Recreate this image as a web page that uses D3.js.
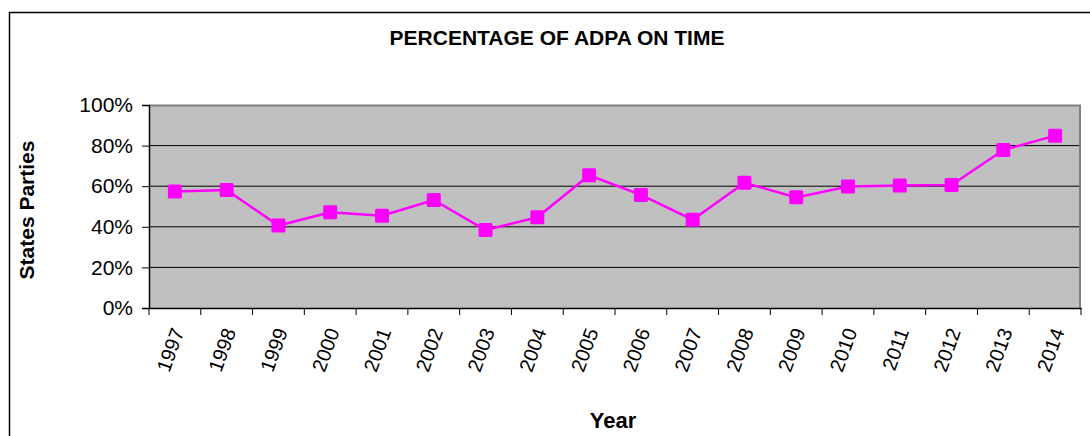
<!DOCTYPE html>
<html>
<head>
<meta charset="utf-8">
<script src="https://cdn.jsdelivr.net/npm/d3@7"></script>
<style>
  body { margin: 0; background: #fff; }
  svg { display: block; font-family: "Liberation Sans", Arial, sans-serif; }
</style>
</head>
<body>
<svg id="chart" width="1090" height="436"></svg>
<script>
const years = ["1997", "1998", "1999", "2000", "2001", "2002", "2003", "2004", "2005",
  "2006", "2007", "2008", "2009", "2010", "2011", "2012", "2013", "2014"];
const onTime = [0.574, 0.581, 0.406, 0.472, 0.455, 0.532, 0.384, 0.447, 0.654,
  0.557, 0.435, 0.617, 0.545, 0.598, 0.603, 0.606, 0.778, 0.849];
const yTicks = [0, 0.2, 0.4, 0.6, 0.8, 1];

const svg = d3.select("#chart");
const margin = { top: 105, right: 9, bottom: 128, left: 149 };
const width = 1090 - margin.left - margin.right;
const height = 436 - margin.top - margin.bottom;

// outer chart border (left + top only visible)
svg.append("path")
  .attr("d", "M9.5,436 V12.5 H1090")
  .attr("fill", "none")
  .attr("stroke", "#000")
  .attr("stroke-width", 1.5);

svg.append("text")
  .attr("x", 557)
  .attr("y", 45)
  .attr("text-anchor", "middle")
  .attr("font-weight", "bold")
  .attr("font-size", 21)
  .text("PERCENTAGE OF ADPA ON TIME");

const x = d3.scaleBand().domain(years).range([0, width]);
const y = d3.scaleLinear().domain([0, 1]).range([height, 0]);

const g = svg.append("g").attr("transform", `translate(${margin.left},${margin.top})`);

g.append("rect")
  .attr("width", width)
  .attr("height", height)
  .attr("fill", "#c0c0c0");

g.append("g")
  .selectAll("line")
  .data(yTicks.slice(1, -1))
  .join("line")
  .attr("x1", 0)
  .attr("x2", width)
  .attr("y1", (d) => y(d))
  .attr("y2", (d) => y(d))
  .attr("stroke", "#000")
  .attr("stroke-width", 1);

// gray frame top/right
g.append("path")
  .attr("d", `M0,0.5 H${width - 1} V${height}`)
  .attr("fill", "none")
  .attr("stroke", "#808080")
  .attr("stroke-width", 2);

const yAxis = g.append("g")
  .call(d3.axisLeft(y).tickValues(yTicks).tickFormat(d3.format(".0%")).tickSize(7).tickPadding(9));
yAxis.select(".domain").attr("stroke", "#000").attr("stroke-width", 1.5);
yAxis.selectAll("text").attr("font-size", 21).attr("fill", "#000").attr("font-family", "Liberation Sans, Arial, sans-serif");

const xAxis = g.append("g")
  .attr("transform", `translate(0,${height})`)
  .call(d3.axisBottom(x).tickSize(0).tickFormat(""));
xAxis.select(".domain").attr("stroke", "#000").attr("stroke-width", 1.5);

g.append("g")
  .selectAll("line")
  .data(years.concat(["end"]))
  .join("line")
  .attr("x1", (d, i) => i * x.step())
  .attr("x2", (d, i) => i * x.step())
  .attr("y1", height)
  .attr("y2", height + 7)
  .attr("stroke", "#000");

g.append("g")
  .selectAll("text")
  .data(years)
  .join("text")
  .attr("transform", (d) => `translate(${x(d) + x.bandwidth() / 2 + 3},${height + 21}) rotate(-70)`)
  .attr("text-anchor", "end")
  .attr("dy", "0.35em")
  .attr("font-size", 20)
  .text((d) => d);

const line = d3.line()
  .x((d, i) => x(years[i]) + x.bandwidth() / 2)
  .y((d) => y(d));

g.append("path")
  .datum(onTime)
  .attr("d", line)
  .attr("fill", "none")
  .attr("stroke", "#ff00ff")
  .attr("stroke-width", 2.5);

const ms = 14;
g.append("g")
  .selectAll("rect")
  .data(onTime)
  .join("rect")
  .attr("x", (d, i) => x(years[i]) + x.bandwidth() / 2 - ms / 2)
  .attr("y", (d) => y(d) - ms / 2)
  .attr("width", ms)
  .attr("height", ms)
  .attr("rx", 1.5)
  .attr("fill", "#ff00ff");

svg.append("text")
  .attr("transform", "translate(34,210) rotate(-90)")
  .attr("text-anchor", "middle")
  .attr("font-weight", "bold")
  .attr("font-size", 21)
  .text("States Parties");

svg.append("text")
  .attr("x", 613)
  .attr("y", 428)
  .attr("text-anchor", "middle")
  .attr("font-weight", "bold")
  .attr("font-size", 22)
  .text("Year");
</script>
</body>
</html>
